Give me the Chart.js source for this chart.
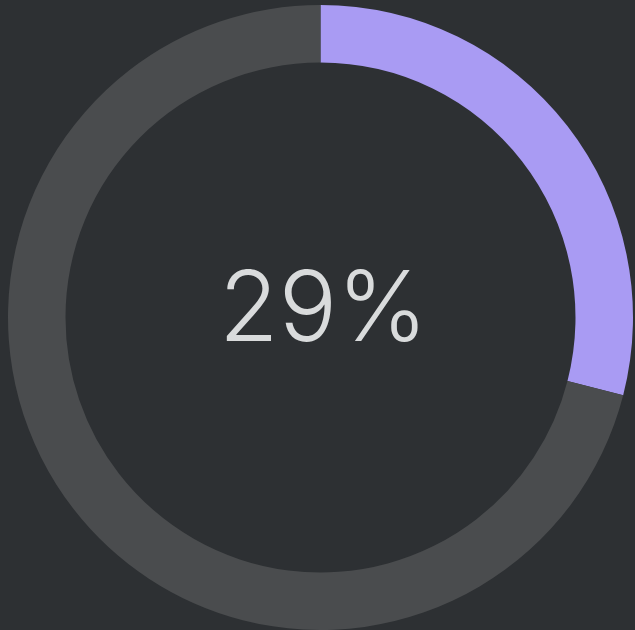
<!DOCTYPE html>
<html>
<head>
<meta charset="utf-8">
<script src="https://cdn.jsdelivr.net/npm/chart.js@4"></script>
<style>
  html, body { margin: 0; padding: 0; background: #2d3033; }
  #wrap { width: 635px; height: 630px; position: relative; }
</style>
</head>
<body>
<div id="wrap"><canvas id="myChart"></canvas></div>
<script>
const labels = ['done', 'remaining'];
const values = [29, 71];
const centerLabel = '29%';
const colors = ['#a99bf3', '#4a4c4e'];

// writes the percentage in the middle of the ring
const centerText = {
    id: 'centerText',
    afterDraw(chart) {
        const ctx = chart.ctx;
        const arc = chart.getDatasetMeta(0).data[0];
        ctx.save();
        ctx.font = '300 97px Inter';
        ctx.fillStyle = '#d9dbdc';
        ctx.textAlign = 'center';
        ctx.textBaseline = 'middle';
        ctx.fillText(centerLabel, arc.x + 3, arc.y - 6);
        ctx.restore();
    }
};

const config = {
    type: 'doughnut',
    data: {
        labels: labels,
        datasets: [{
            data: values,
            backgroundColor: colors,
            borderWidth: 0
        }]
    },
    options: {
        responsive: true,
        maintainAspectRatio: false,
        animation: false,
        cutout: '81.6%',
        layout: { padding: { left: 8, right: 2, top: 5, bottom: 0 } },
        plugins: {
            legend: { display: false },
            tooltip: { enabled: false }
        }
    },
    plugins: [centerText]
};
new Chart(document.getElementById('myChart'), config);
</script>
</body>
</html>
